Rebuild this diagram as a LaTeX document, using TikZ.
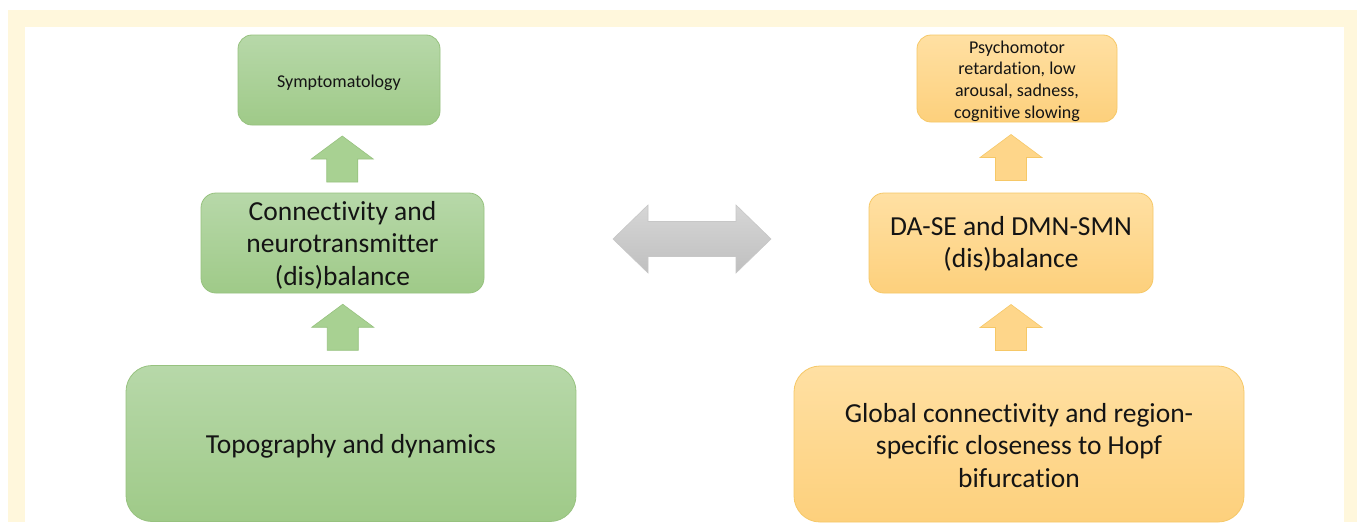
\documentclass[tikz,border=0pt]{standalone}
\usepackage{fontspec}
\setmainfont{Carlito}[Ligatures=NoCommon]
\usetikzlibrary{calc}
\definecolor{cream}{HTML}{FFF7DC}
\definecolor{gtop}{HTML}{B7D8A9}
\definecolor{gbot}{HTML}{9FCA88}
\definecolor{gline}{HTML}{97C27F}
\definecolor{gfill}{HTML}{A8D192}
\definecolor{otop}{HTML}{FFE0A3}
\definecolor{obot}{HTML}{FDD07C}
\definecolor{oline}{HTML}{F6C867}
\definecolor{ofill}{HTML}{FED68A}
\definecolor{txt}{HTML}{141414}
\newcommand{\lowered}[2]{\raisebox{-#1}[\height][\depth]{\begin{tabular}{@{}c@{}}#2\end{tabular}}}
\tikzset{
  box/.style={rectangle, inner sep=0pt, align=center, text=txt, line width=0.8pt},
  greenbox/.style={box, draw=gline, top color=gtop, bottom color=gbot},
  orangebox/.style={box, draw=oline, top color=otop, bottom color=obot},
  smalltext/.style={font=\fontsize{18}{21.7}\selectfont},
  bigtext/.style={font=\fontsize{27.5}{32.5}\selectfont},
  uparrow/.pic={
    \path[pic actions] (-15.5,0) -- (-15.5,-23) -- (-31,-23) -- (0,-46)
      -- (31,-23) -- (15.5,-23) -- (15.5,0) -- cycle;
  },
  duoarrow/.pic={
    \path[pic actions] (-79,0) -- (-44,-34) -- (-44,-17.5) -- (44,-17.5)
      -- (44,-34) -- (79,0) -- (44,34) -- (44,17.5) -- (-44,17.5)
      -- (-44,34) -- cycle;
  }
}
\begin{document}
\begin{tikzpicture}[x=1pt,y=-1pt]
\useasboundingbox (0,0) rectangle (1357,522);
\fill[white] (0,0) rectangle (1357,522);
\fill[cream] (8,10) rectangle (1357,522);
\fill[white] (25,27) rectangle (1344,522);

% green column
\node[greenbox, smalltext, rounded corners=14pt, minimum width=202pt, minimum height=90pt]
  (sym) at (339,80) {\lowered{3pt}{Symptomatology}};
\node[greenbox, bigtext, rounded corners=15pt, minimum width=283pt, minimum height=100pt]
  (conn) at (342.5,243) {\lowered{3pt}{Connectivity and\\neurotransmitter\\(dis)balance}};
\node[greenbox, bigtext, rounded corners=26pt, minimum width=450pt, minimum height=156pt]
  (topo) at (351,443.5) {\lowered{3pt}{Topography and dynamics}};

% orange column
\node[orangebox, smalltext, rounded corners=14pt, minimum width=200pt, minimum height=87pt]
  (psy) at (1017,78.5) {\lowered{3pt}{Psychomotor\\retardation, low\\arousal, sadness,\\cognitive slowing}};
\node[orangebox, bigtext, rounded corners=15pt, minimum width=284pt, minimum height=100pt]
  (dase) at (1011,243) {\lowered{2pt}{DA-SE and DMN-SMN\\(dis)balance}};
\node[orangebox, bigtext, rounded corners=26pt, minimum width=450pt, minimum height=156pt]
  (glob) at (1019,444) {\lowered{4pt}{Global connectivity and region-\\specific closeness to Hopf\\bifurcation}};

% block arrows
\coordinate (ga1) at ($(sym.south)!0.5!(conn.north)+(1.5,23)$);
\coordinate (ga2) at ($(conn.south)!0.5!(topo.north)+(-4,21)$);
\coordinate (oa1) at ($(psy.south)!0.5!(dase.north)+(-3,23)$);
\coordinate (oa2) at ($(dase.south)!0.5!(glob.north)+(-4,21)$);
\pic[fill=gfill, draw=gline, line width=0.6pt] at (ga1) {uparrow};
\pic[fill=gfill, draw=gline, line width=0.6pt] at (ga2) {uparrow};
\pic[fill=ofill, draw=oline, line width=0.6pt] at (oa1) {uparrow};
\pic[fill=ofill, draw=oline, line width=0.6pt] at (oa2) {uparrow};

\coordinate (mid) at ($(conn.east)!0.5!(dase.west)+(15.5,-4)$);
\pic[top color=black!16, bottom color=black!25, draw=black!22, line width=0.6pt] at (mid) {duoarrow};
\end{tikzpicture}
\end{document}
